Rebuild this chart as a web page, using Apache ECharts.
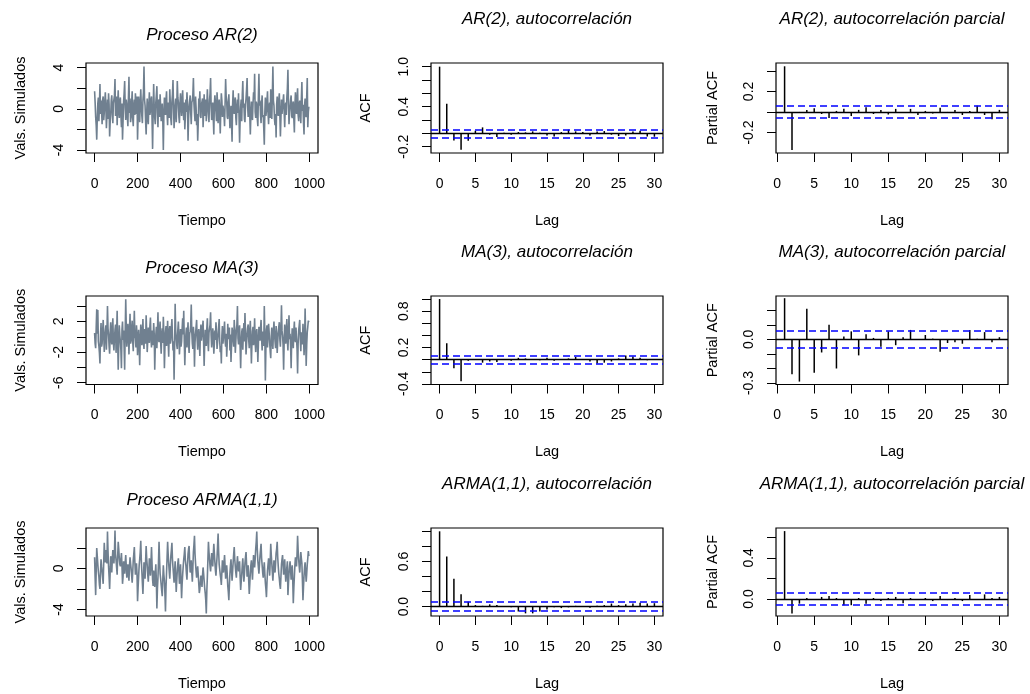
<!DOCTYPE html>
<html><head><meta charset="utf-8">
<script src="https://cdn.jsdelivr.net/npm/echarts@6/dist/echarts.min.js"></script>
<style>html,body{margin:0;padding:0;background:#fff}#c{width:1030px;height:694px}</style>
</head><body><div id="c"></div>
<script>
// ---------- DATA ----------
const tsStep = 2.5; // time step between the stored samples
const ar2Series = [
1.7,0.6,-0.8,-1.6,-3.0,-0.9,0.5,1.1,-1.2,0.3,2.4,-0.5,0.8,-0.2,-1.5,0.9,1.2,-1.1,-0.4,0.7,1.6,0.2,-1.9,-0.6,0.9,-1.0,1.5,0.4,-2.7,-1.3,-0.6,0.8,1.3,-0.2,-1.4,0.5,0.6,1.3,2.9,-0.7,
0.2,1.2,-1.6,0.4,1.8,-0.3,-0.9,0.8,1.1,-0.6,-1.8,0.5,-3.0,-1.2,0.7,1.5,2.7,0.1,-1.1,0.9,0.4,-0.8,-1.7,1.0,3.1,-0.4,1.0,-1.3,-0.8,0.6,1.7,-0.9,-1.7,0.3,0.9,-0.6,1.5,0.7,-0.5,1.2,
-3.0,-0.7,1.2,-0.2,-1.3,0.6,1.9,0.2,-0.7,-1.4,0.8,1.6,4.1,0.9,0.3,-1.2,-2.5,-0.4,1.0,-0.8,-1.5,0.3,1.6,-0.6,-0.2,0.9,1.2,-1.0,-3.9,-0.5,2.4,0.2,-0.9,-1.5,0.6,1.3,2.2,-0.4,-1.8,0.7,
0.9,-0.8,1.4,0.2,-1.2,-0.3,0.5,-1.1,-4.0,-0.6,1.1,0.3,-0.6,0.9,1.7,-0.5,-1.6,0.6,0.3,-0.9,1.9,0.5,-1.0,-1.6,0.7,1.4,2.8,0.1,-1.9,-0.7,0.4,1.0,-1.3,0.2,2.7,1.1,0.6,-0.8,-1.4,0.5,
1.5,0.3,-0.7,0.9,1.8,-0.2,-1.1,0.6,-2.0,-0.8,0.9,-0.3,1.6,0.4,-3.1,-1.0,0.2,0.8,1.3,-0.4,-1.5,0.6,0.8,1.4,3.0,0.5,-0.4,-1.2,1.2,0.1,-1.6,-0.5,-3.1,-1.4,1.0,0.2,1.7,-0.7,-0.9,0.4,
0.5,1.0,-1.8,-0.4,1.4,-0.7,0.1,0.9,-1.2,0.3,1.9,0.4,-0.6,-1.3,0.8,1.5,3.0,0.2,-1.1,-0.3,0.6,-0.9,-2.5,0.4,1.3,0.6,-0.3,-1.2,1.6,0.5,-1.4,0.2,0.9,-0.7,-2.4,-0.2,1.5,0.8,-0.8,0.3,
0.4,-0.6,-1.7,0.5,2.9,1.2,0.7,-0.8,-1.0,0.6,1.4,-0.3,-1.9,-0.5,0.3,-1.4,-3.2,0.4,1.8,-0.2,-0.5,0.8,1.1,-0.9,-1.6,0.2,0.9,-0.4,1.5,-0.8,-3.3,-1.1,0.2,0.9,-1.2,1.3,2.7,0.1,0.5,-1.0,
-1.3,0.4,1.0,1.9,3.0,0.2,-0.8,0.6,1.2,-0.7,-2.5,-0.6,0.7,-0.2,-1.1,0.5,1.6,0.9,3.4,-0.3,-0.9,0.7,0.4,-1.0,-1.7,1.2,3.4,0.3,0.8,-0.6,-1.4,0.5,1.3,-0.8,-0.6,-1.9,-3.5,-0.4,1.1,-0.7,
-0.2,0.8,1.7,-0.4,-1.5,0.2,0.6,-0.9,1.9,0.5,-1.0,1.3,4.1,0.8,0.3,-1.0,-1.6,-0.5,-2.8,0.4,1.2,-0.3,-0.7,0.9,1.5,-0.6,-2.7,-0.9,0.9,-0.5,-0.4,0.8,1.4,-0.3,-1.8,0.2,0.6,-0.6,1.1,2.0,
3.8,0.6,-1.5,-0.4,0.2,0.9,1.3,-0.7,-0.9,0.5,0.7,-1.0,-2.3,0.3,1.6,-0.1,-0.5,1.1,2.0,-0.6,-1.2,0.4,0.8,-0.5,-1.4,0.9,2.6,-0.2,0.4,-1.3,-2.5,0.3,1.0,-0.6,-0.8,1.2,3.0,-1.8,-0.3,0.2];
const ma3Series = [
0.5,-0.9,-1.5,1.2,3.6,0.4,3.5,-0.6,-1.2,-2.1,-3.5,0.2,1.8,-1.3,-0.9,0.7,2.2,0.3,-2.0,-0.4,0.7,1.5,-1.7,0.6,4.0,1.1,0.3,-1.2,-2.2,0.5,1.9,-0.3,-1.0,1.1,2.4,-0.8,-1.8,-0.2,0.9,1.6,
-2.1,0.4,3.4,-0.7,-4.3,-1.0,1.5,0.2,-0.6,-1.8,-4.1,0.9,2.0,-0.4,0.8,-1.5,-4.3,0.6,4.9,1.3,-1.3,-0.2,1.7,0.5,-2.3,0.8,3.0,-0.9,-0.5,1.2,2.1,-0.6,-1.9,0.9,3.4,0.2,-0.2,-1.4,1.5,0.3,
-2.4,-0.5,0.9,-1.2,-3.7,-0.3,1.6,0.7,-1.1,0.4,2.3,-0.8,-1.6,1.0,0.4,-0.9,2.8,0.6,-2.0,-0.5,1.2,0.3,-0.8,1.4,2.5,-0.3,-1.4,0.8,0.6,-1.1,1.8,0.4,-4.3,-1.2,0.2,1.3,-1.5,0.6,3.2,-0.4,
-0.7,1.1,2.0,-0.6,-2.2,0.3,1.1,-0.8,2.6,0.5,-4.1,-1.3,0.5,1.4,-1.2,0.2,2.1,-0.5,-2.6,0.7,1.4,-0.9,-0.4,1.2,2.3,0.1,-1.8,-0.6,-5.6,-1.5,4.3,0.9,0.8,-1.1,-1.6,0.9,2.0,0.2,-2.3,-0.7,
1.0,-1.3,-0.6,1.0,2.4,0.3,3.4,-0.5,-3.7,-1.1,0.3,1.2,-1.4,0.5,1.9,-0.9,-2.1,0.4,0.7,1.5,4.2,0.6,-0.9,-1.6,1.3,0.2,-3.9,-0.8,0.4,1.3,2.2,-0.4,-1.7,0.6,1.0,-0.8,-2.5,0.3,1.6,-0.5,
-0.3,1.2,2.1,-0.8,-3.8,-1.0,0.9,-0.4,-1.2,1.1,2.4,-0.6,-1.9,0.5,0.6,1.6,3.2,0.2,-1.4,-0.5,1.1,0.4,-2.2,-0.9,0.8,-0.4,1.9,0.6,-1.6,-0.7,0.2,1.3,2.3,-0.6,-2.0,-1.2,-3.5,0.1,1.4,-0.9,
-0.7,0.8,2.0,-0.5,-1.3,0.4,-2.6,-0.9,1.7,-0.3,0.5,1.2,-1.8,0.3,-3.3,-1.1,1.2,0.6,-0.4,-1.3,2.2,0.7,-2.1,-0.6,0.9,1.6,4.0,-0.2,-1.0,0.8,1.5,-1.3,-4.1,-0.8,0.6,1.1,-1.7,0.4,1.8,-0.6,
3.1,0.5,-2.3,-0.9,0.4,1.2,1.6,-0.4,-1.5,0.8,2.1,-0.6,-3.5,-0.8,0.7,1.3,-1.1,0.2,2.4,-0.7,-2.0,0.5,1.0,-0.6,-3.3,-1.0,1.3,0.4,-0.5,1.1,2.2,-0.3,-1.8,0.7,0.6,-1.2,4.0,0.3,-5.7,-1.4,
0.9,1.5,-1.4,0.3,1.7,0.6,-0.8,-1.9,-2.8,0.1,1.2,-0.5,-1.6,0.7,2.0,0.3,-0.6,-1.5,1.4,0.4,-2.1,-0.7,0.5,1.3,1.9,-0.4,-1.3,0.9,4.1,0.8,0.2,-1.1,-4.3,-0.6,1.6,0.2,-0.9,1.0,2.3,-0.5,
-1.8,0.6,2.8,-0.3,0.4,-1.2,-4.1,-0.5,1.1,0.3,-1.5,0.8,2.0,-0.4,-0.7,1.2,1.3,-1.6,-4.8,-0.9,0.8,1.5,2.2,-0.3,-1.9,0.6,0.5,-1.0,1.7,0.4,-2.4,-0.6,3.7,0.2,-3.8,-1.1,0.6,1.3,2.1,1.9];
const arma11Series = [
1.1,-0.9,-2.6,-0.2,2.0,1.2,0.4,-0.3,-0.8,-1.6,-2.0,-0.4,0.9,0.2,-0.3,-0.9,-1.5,0.6,2.5,1.3,0.6,1.8,1.4,0.5,3.6,1.7,0.2,-0.8,-2.0,-0.3,1.2,0.8,-0.4,0.9,1.8,1.1,0.5,1.6,3.7,1.4,
0.8,0.1,-0.6,1.2,2.6,1.9,1.0,0.4,0.2,0.9,1.5,0.3,-1.5,-0.8,0.7,0.1,-0.5,0.6,1.3,0.2,-0.9,-0.3,0.4,-0.6,-1.2,0.2,1.1,0.5,0.0,-0.7,-1.4,-0.4,0.8,1.4,2.1,0.6,-0.6,-0.2,0.5,-0.5,
-3.2,-1.9,-0.8,0.3,0.9,1.6,2.7,0.8,-0.3,-1.4,-2.5,-0.9,0.6,-0.2,-1.0,0.7,2.2,1.0,0.3,-0.6,-1.3,-0.2,1.0,0.3,-0.7,0.6,2.1,0.4,-1.1,-1.7,-0.2,-0.9,-1.8,-0.5,0.4,-1.2,-3.9,-2.0,-0.9,0.6,
2.6,0.9,-0.5,-1.0,-1.6,-2.2,-2.7,-1.1,0.3,-0.6,-1.2,-2.5,-4.2,-1.8,-0.4,1.1,2.6,1.4,0.5,-0.3,-1.0,0.2,1.2,1.8,2.5,0.9,0.1,-0.6,-1.4,-0.3,0.7,-0.8,-2.3,-1.2,-0.2,0.5,1.0,-0.3,-1.5,-0.6,
0.4,-1.2,-2.9,-1.5,-0.6,0.2,0.9,1.4,2.1,0.8,0.3,-0.5,-1.1,0.3,1.4,1.9,2.2,0.6,-0.4,0.2,0.8,-0.4,-1.3,0.1,1.6,2.3,3.2,1.4,0.5,-0.3,-0.9,-0.2,0.2,-0.6,-1.5,-2.4,-2.0,-1.3,-0.7,-1.2,
-1.8,-0.7,0.1,-0.5,-1.2,-1.9,-2.4,-3.1,-4.4,-2.2,-0.8,0.9,2.6,1.6,0.9,0.2,-0.3,0.6,1.5,0.8,0.2,1.3,2.4,1.5,0.6,-0.2,-0.7,0.3,1.1,2.2,3.4,1.6,0.4,-0.1,-0.6,-1.0,-1.6,-0.4,0.8,0.1,
-0.4,0.5,1.3,0.2,-1.0,-0.4,0.3,-0.6,-1.7,-2.3,-3.1,-1.6,-0.5,0.3,0.9,-0.2,-1.2,-0.3,0.6,1.4,2.1,0.9,0.2,-0.4,-0.9,0.3,1.2,0.4,-0.3,0.2,0.7,-0.8,-2.1,-1.3,-0.6,0.3,1.0,-0.2,-1.3,-0.5,
0.5,1.1,1.6,0.4,-0.8,-0.2,0.3,-1.2,-2.5,-1.5,-0.4,0.3,0.8,-0.3,-1.1,0.2,1.3,0.6,0.1,0.9,1.9,2.6,3.6,1.8,0.7,0.1,-0.5,0.4,1.2,1.8,2.4,1.0,0.3,-0.4,-0.9,-0.1,0.6,-0.5,-1.4,-2.0,
-2.8,-1.4,-0.2,0.4,1.0,0.2,-0.7,0.6,2.4,1.3,0.5,-0.4,-1.2,-0.2,0.8,0.2,-0.4,0.5,1.5,1.9,2.6,1.1,0.2,-0.5,-1.0,-1.6,-2.0,-0.8,0.4,0.9,1.3,0.3,-0.6,0.2,0.9,-0.4,-1.3,-0.5,0.1,0.7,
-2.6,-1.5,-0.5,0.2,0.7,-0.2,-1.1,-0.4,0.3,-1.2,-3.4,-1.9,-0.8,0.3,1.1,0.6,0.2,1.4,3.2,1.8,0.9,0.2,-0.4,0.5,1.6,1.0,0.5,-1.2,-3.1,-1.8,-0.7,0.1,0.6,-0.4,-1.3,-0.5,0.4,1.0,1.7,1.2];

const acfLags  = [0,1,2,3,4,5,6,7,8,9,10,11,12,13,14,15,16,17,18,19,20,21,22,23,24,25,26,27,28,29,30];
const pacfLags = [1,2,3,4,5,6,7,8,9,10,11,12,13,14,15,16,17,18,19,20,21,22,23,24,25,26,27,28,29,30];
const ar2Acf = [1.0,0.445,-0.105,-0.245,-0.11,0.04,0.09,-0.02,-0.055,0.01,-0.02,0.02,0.015,0.03,0.01,-0.03,-0.045,0.02,0.055,0.03,0.02,-0.03,0.03,0.035,-0.02,-0.04,-0.03,0.03,0.04,-0.045,-0.05];
const ar2Pacf = [0.445,-0.37,-0.01,0.02,0.035,-0.02,-0.06,0.01,0.03,-0.04,0.02,0.045,-0.02,0.02,-0.025,0.03,-0.01,0.03,-0.03,0.01,-0.015,0.04,-0.01,0.02,-0.03,0.01,0.06,-0.03,-0.07,0.02];
const ma3Acf = [1.0,0.27,-0.14,-0.355,-0.02,0.01,-0.05,-0.03,-0.04,0.01,-0.02,0.03,0.02,0.01,-0.01,0.03,-0.02,0.01,0.02,0.045,0.01,-0.03,-0.065,-0.05,-0.03,0.02,0.07,0.05,0.03,-0.01,0.01];
const ma3Pacf = [0.283,-0.24,-0.29,0.21,-0.23,-0.09,0.10,-0.20,0.02,0.055,-0.11,0.035,0.01,-0.05,0.055,-0.04,0.015,0.065,-0.005,0.03,0.005,-0.085,-0.025,-0.02,-0.03,0.065,0.005,0.05,-0.02,0.015];
const arma11Acf = [1.0,0.665,0.37,0.165,0.065,0.02,0.01,0.03,0.02,0.005,-0.01,-0.065,-0.09,-0.09,-0.065,-0.04,-0.01,-0.02,-0.01,0.01,0.005,-0.015,0.01,0.02,0.04,0.02,0.03,0.04,0.05,0.04,0.045];
const arma11Pacf = [0.66,-0.14,-0.045,0.01,-0.01,0.02,0.03,0.01,-0.06,-0.06,0.01,-0.045,0.01,-0.02,0.01,0.02,-0.04,0.01,-0.01,0.01,-0.02,0.03,-0.01,0.01,-0.02,0.04,-0.01,0.045,0.01,0.02];
const ciBound = 0.062;

const timeTicks = [0,200,400,600,800,1000];
const lagTicks = [0,5,10,15,20,25,30];
const ar2YTicks = [-4,-2,0,2,4],            ar2YLabels = [-4,0,4];
const ma3YTicks = [-6,-4,-2,0,2,4],         ma3YLabels = [-6,-2,2];
const arma11YTicks = [-4,-2,0,2],           arma11YLabels = [-4,0];
const ar2AcfTicks = [-0.2,0,0.2,0.4,0.6,0.8,1.0],      ar2AcfLabels = [-0.2,0.4,1.0];
const ar2PacfTicks = [-0.2,0,0.2,0.4],                 ar2PacfLabels = [-0.2,0.2];
const ma3AcfTicks = [-0.4,-0.2,0,0.2,0.4,0.6,0.8,1.0], ma3AcfLabels = [-0.4,0.2,0.8];
const ma3PacfTicks = [-0.3,-0.2,-0.1,0,0.1,0.2],       ma3PacfLabels = [-0.3,0];
const arma11AcfTicks = [0,0.2,0.4,0.6,0.8,1.0],        arma11AcfLabels = [0,0.6];
const arma11PacfTicks = [0,0.2,0.4,0.6],               arma11PacfLabels = [0,0.4];

const tsTitles = ['Proceso AR(2)','Proceso MA(3)','Proceso ARMA(1,1)'];
const acfTitles = ['AR(2), autocorrelación','MA(3), autocorrelación','ARMA(1,1), autocorrelación'];
const pacfTitles = ['AR(2), autocorrelación parcial','MA(3), autocorrelación parcial','ARMA(1,1), autocorrelación parcial'];

// ---------- LAYOUT ----------
const FONT = 'Liberation Sans, Arial, Helvetica, sans-serif';
const colLeft = [86, 431, 776];
const boxW = 232;
const rowTop = [63, 296, 528];
const rowH = [90, 88.5, 88];

const grids=[], xAxes=[], yAxes=[], series=[], graphics=[];

function addAxes(c, r, o){
  const gi = grids.length;
  grids.push({left:colLeft[c], top:rowTop[r], width:boxW, height:rowH[r], show:true,
    borderColor:'#000', borderWidth:1.2, backgroundColor:'transparent', containLabel:false, outerBoundsMode:'none'});
  xAxes.push({type:'value', gridIndex:gi, min:o.xMin, max:o.xMax, position:'bottom',
    axisLine:{show:false, onZero:false}, splitLine:{show:false},
    axisTick:{show:true, inside:false, length:9, lineStyle:{color:'#000', width:1}, customValues:o.xTicks},
    axisLabel:{show:true, margin:24, color:'#000', fontSize:14, fontFamily:FONT, customValues:o.xTicks,
      formatter:v=>String(v)},
    name:o.xName, nameLocation:'middle', nameGap:60, nameMoveOverlap:false,
    nameTextStyle:{color:'#000', fontSize:14.5, fontFamily:FONT}});
  yAxes.push({type:'value', gridIndex:gi, min:o.yMin, max:o.yMax, position:'left',
    axisLine:{show:false, onZero:false}, splitLine:{show:false},
    axisTick:{show:true, inside:false, length:9, lineStyle:{color:'#000', width:1}, customValues:o.yTicks},
    axisLabel:{show:true, rotate:90, margin:20, color:'#000', fontSize:14, fontFamily:FONT, customValues:o.yLabels,
      formatter:v=> o.dec ? Number(v).toFixed(1) : String(v)},
    name:o.yName, nameLocation:'middle', nameGap:o.yGap || 58, nameMoveOverlap:false,
    nameTextStyle:{color:'#000', fontSize:14.5, fontFamily:FONT}});
  graphics.push({type:'text', silent:true, x:colLeft[c] + boxW/2, y:rowTop[r] - o.titleOff,
    style:{text:o.title, fill:'#000', font:'italic 17px ' + FONT, align:'center', verticalAlign:'middle'}});
  return gi;
}

function tsPanel(r, vals, yMin, yMax, yTicks, yLabels, title){
  const gi = addAxes(0, r, {xMin:-40, xMax:1040, xTicks:timeTicks, xName:'Tiempo',
    yMin, yMax, yTicks, yLabels, yName:'Vals. Simulados', title, titleOff:28});
  series.push({type:'line', xAxisIndex:gi, yAxisIndex:gi, silent:true, animation:false,
    data: vals.map((v,i)=>[i*tsStep, v]), showSymbol:false, symbol:'none',
    lineStyle:{color:'#708090', width:1.6}});
}

function corrPanel(c, r, lags, vals, yMin, yMax, yTicks, yLabels, yName, title, partial){
  const gi = addAxes(c, r, {xMin: partial ? -0.16 : -1.2, xMax: partial ? 31.16 : 31.2, xTicks:lagTicks, xName:'Lag',
    yMin, yMax, yTicks, yLabels, yName, dec:true, title, titleOff:44, yGap: partial ? 56 : 58});
  series.push({type:'bar', xAxisIndex:gi, yAxisIndex:gi, silent:true, animation:false,
    data: lags.map((l,i)=>[l, vals[i]]), barWidth:1.5, itemStyle:{color:'#000'},
    markLine:{silent:true, animation:false, symbol:['none','none'], label:{show:false},
      data:[
        {yAxis:0, lineStyle:{color:'#000', type:'solid', width:1.3}},
        {yAxis:ciBound, lineStyle:{color:'#0000FF', type:[7,4], width:1.5}},
        {yAxis:-ciBound, lineStyle:{color:'#0000FF', type:[7,4], width:1.5}}
      ]}});
}

tsPanel(0, ar2Series, -4.3, 4.45, ar2YTicks, ar2YLabels, tsTitles[0]);
tsPanel(1, ma3Series, -6.23, 5.32, ma3YTicks, ma3YLabels, tsTitles[1]);
tsPanel(2, arma11Series, -4.64, 3.95, arma11YTicks, arma11YLabels, tsTitles[2]);

corrPanel(1, 0, acfLags, ar2Acf, -0.294, 1.055, ar2AcfTicks, ar2AcfLabels, 'ACF', acfTitles[0], false);
corrPanel(2, 0, pacfLags, ar2Pacf, -0.40, 0.477, ar2PacfTicks, ar2PacfLabels, 'Partial ACF', pacfTitles[0], true);
corrPanel(1, 1, acfLags, ma3Acf, -0.41, 1.05, ma3AcfTicks, ma3AcfLabels, 'ACF', acfTitles[1], false);
corrPanel(2, 1, pacfLags, ma3Pacf, -0.31, 0.298, ma3PacfTicks, ma3PacfLabels, 'Partial ACF', pacfTitles[1], true);
corrPanel(1, 2, acfLags, arma11Acf, -0.125, 1.044, arma11AcfTicks, arma11AcfLabels, 'ACF', acfTitles[2], false);
corrPanel(2, 2, pacfLags, arma11Pacf, -0.165, 0.69, arma11PacfTicks, arma11PacfLabels, 'Partial ACF', pacfTitles[2], true);

const chart = echarts.init(document.getElementById('c'), null, {renderer:'canvas'});
chart.setOption({backgroundColor:'#fff', animation:false, grid:grids, xAxis:xAxes, yAxis:yAxes, series, graphic:graphics});
</script></body></html>
